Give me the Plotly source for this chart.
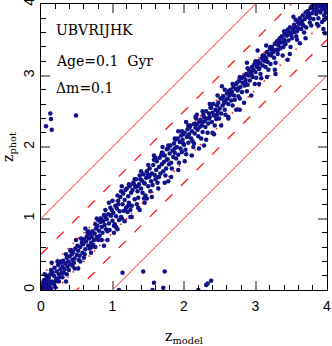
import plotly.graph_objects as go

# band of galaxies around z_phot = z_model
z_model = [
    0.01, 0.02, 0.03, 0.04, 0.05, 0.06, 0.07, 0.08, 0.09, 0.10,
    0.02, 0.04, 0.05, 0.07, 0.08, 0.11, 0.12, 0.13, 0.15, 0.16,
    0.18, 0.19, 0.21, 0.22, 0.24, 0.25, 0.27, 0.28, 0.29, 0.30,
    0.31, 0.33, 0.34, 0.36, 0.37, 0.38, 0.40, 0.41, 0.43, 0.44,
    0.45, 0.47, 0.48, 0.50, 0.51, 0.52, 0.54, 0.55, 0.57, 0.58,
    0.59, 0.60, 0.62, 0.63, 0.64, 0.66, 0.67, 0.69, 0.70, 0.71,
    0.72, 0.74, 0.75, 0.77, 0.78, 0.79, 0.81, 0.82, 0.83, 0.85,
    0.86, 0.87, 0.89, 0.90, 0.91, 0.92, 0.94, 0.95, 0.96, 0.98,
    0.99, 1.00, 1.01, 1.03, 1.04, 1.05, 1.06, 1.08, 1.09, 1.10,
    1.11, 1.12, 1.14, 1.15, 1.16, 1.17, 1.19, 1.20, 1.21, 1.22,
    1.23, 1.24, 1.26, 1.27, 1.28, 1.29, 1.31, 1.32, 1.33, 1.35,
    1.36, 1.37, 1.38, 1.40, 1.41, 1.42, 1.43, 1.45, 1.46, 1.47,
    1.48, 1.50, 1.51, 1.52, 1.54, 1.55, 1.56, 1.57, 1.59, 1.60,
    1.61, 1.62, 1.64, 1.65, 1.66, 1.67, 1.69, 1.70, 1.71, 1.72,
    1.73, 1.75, 1.76, 1.77, 1.79, 1.80, 1.81, 1.82, 1.84, 1.85,
    1.86, 1.87, 1.89, 1.90, 1.91, 1.92, 1.94, 1.95, 1.96, 1.97,
    1.98, 2.00, 2.01, 2.02, 2.04, 2.05, 2.06, 2.07, 2.09, 2.10,
    2.11, 2.12, 2.14, 2.15, 2.16, 2.17, 2.19, 2.20, 2.21, 2.22,
    2.23, 2.25, 2.26, 2.27, 2.29, 2.30, 2.31, 2.32, 2.34, 2.35,
    2.36, 2.37, 2.39, 2.40, 2.41, 2.42, 2.44, 2.45, 2.46, 2.47,
    2.48, 2.50, 2.51, 2.52, 2.54, 2.55, 2.56, 2.57, 2.59, 2.60,
    2.61, 2.62, 2.64, 2.65, 2.66, 2.67, 2.69, 2.70, 2.71, 2.72,
    2.73, 2.75, 2.76, 2.77, 2.79, 2.80, 2.81, 2.82, 2.84, 2.85,
    2.86, 2.87, 2.89, 2.90, 2.91, 2.92, 2.94, 2.95, 2.96, 2.97,
    2.98, 3.00, 3.01, 3.02, 3.04, 3.05, 3.06, 3.07, 3.09, 3.10,
    3.11, 3.12, 3.14, 3.15, 3.16, 3.17, 3.19, 3.20, 3.21, 3.22,
    3.23, 3.25, 3.26, 3.27, 3.29, 3.30, 3.31, 3.32, 3.34, 3.35,
    3.36, 3.37, 3.39, 3.40, 3.41, 3.42, 3.44, 3.45, 3.46, 3.47,
    3.48, 3.50, 3.51, 3.52, 3.54, 3.55, 3.56, 3.57, 3.59, 3.60,
    3.61, 3.62, 3.64, 3.65, 3.66, 3.67, 3.69, 3.70, 3.71, 3.72,
    3.73, 3.75, 3.76, 3.77, 3.79, 3.80, 3.81, 3.82, 3.84, 3.85,
    3.86, 3.87, 3.89, 3.90, 3.91, 3.92, 3.94, 3.95, 3.96, 3.97,
    3.98, 3.99, 3.93, 3.97, 3.88, 3.95, 3.91, 3.99, 3.78, 3.83,
    0.15, 0.35, 0.62, 0.88, 1.13, 1.38, 1.58, 1.78, 2.03, 2.28,
    2.53, 2.78, 3.03, 3.28, 3.53, 0.52, 0.95, 1.25, 1.70, 2.18,
    2.62, 3.15, 3.45, 1.05, 1.48, 0.78, 2.40, 2.88, 3.62, 1.92,
    0.03, 0.06, 0.09, 0.12, 0.14, 0.17, 0.20, 0.23, 0.26, 0.32,
    0.35, 0.39, 0.42, 0.46, 0.49, 0.53, 0.56, 0.61, 0.65, 0.68,
    0.73, 0.76, 0.80, 0.84, 0.88, 0.93, 0.97, 1.02, 1.07, 1.13,
    1.18, 1.25, 1.30, 1.34, 1.39, 1.44, 1.49, 1.53, 1.58, 1.63,
    1.68, 1.74, 1.78, 1.83, 1.88, 1.93, 1.99, 2.03, 2.08, 2.13,
    2.18, 2.24, 2.28, 2.33, 2.38, 2.43, 2.49, 2.53, 2.58, 2.63,
    2.68, 2.74, 2.78, 2.83, 2.88, 2.93, 2.99, 3.03, 3.08, 3.13,
    3.18, 3.24, 3.28, 3.33, 3.38, 3.43, 3.49, 3.53, 3.58, 3.63,
    3.68, 3.74, 3.78, 3.83, 3.88, 3.93, 3.96, 3.98, 3.90, 3.86,
    0.08, 0.11, 0.04, 0.18, 0.22, 0.27, 0.44, 0.58, 0.71, 0.84,
    0.97, 1.08, 1.22, 1.35, 1.44, 1.52, 1.65, 1.76, 1.87, 1.99,
    2.06, 2.14, 2.26, 2.35, 2.46, 2.57, 2.64, 2.76, 2.86, 2.95,
    3.05, 3.14, 3.22, 3.31, 3.41, 3.50, 3.58, 3.66, 3.76, 3.84,
    0.90, 0.93, 1.00, 1.02, 1.07, 1.12, 1.17, 1.23, 1.27, 1.31,
    1.36, 1.40, 1.45, 1.50, 1.55, 1.60, 1.64, 1.69, 1.73, 1.78,
    1.82, 1.87, 1.92, 1.97, 2.01, 2.06, 2.11, 2.16, 2.21, 2.26,
    2.31, 2.36, 2.42, 2.47, 2.52, 2.57, 2.62, 2.68, 2.73, 2.78,
    2.84, 2.89, 2.94, 3.00, 3.05, 3.10, 3.16, 3.21, 3.27, 3.33,
    0.05, 0.10, 0.14, 0.20, 0.25, 0.30, 0.36, 0.41, 0.47, 0.55,
    0.60, 0.66, 0.70, 0.76, 0.80, 0.85, 3.40, 3.48, 3.56, 3.70,
]
z_phot = [
    0.02, 0.06, 0.00, 0.09, 0.03, 0.11, 0.04, 0.13, 0.07, 0.05,
    0.00, 0.02, 0.14, 0.01, 0.17, 0.18, 0.09, 0.22, 0.12, 0.25,
    0.20, 0.31, 0.16, 0.26, 0.35, 0.22, 0.29, 0.38, 0.24, 0.33,
    0.41, 0.29, 0.37, 0.45, 0.33, 0.40, 0.47, 0.36, 0.50, 0.42,
    0.53, 0.44, 0.58, 0.49, 0.62, 0.55, 0.48, 0.60, 0.66, 0.52,
    0.64, 0.71, 0.57, 0.68, 0.75, 0.62, 0.72, 0.78, 0.66, 0.74,
    0.82, 0.70, 0.79, 0.86, 0.74, 0.90, 0.83, 0.76, 0.95, 0.88,
    0.80, 0.96, 0.91, 1.02, 0.85, 0.99, 1.06, 0.93, 0.84, 1.04,
    1.12, 0.97, 1.08, 0.92, 1.18, 1.03, 1.14, 1.25, 0.98, 1.10,
    1.30, 1.02, 1.20, 1.35, 1.11, 1.26, 1.15, 1.42, 1.09, 1.31,
    1.22, 1.45, 1.36, 1.18, 1.40, 1.50, 1.27, 1.44, 1.55, 1.38,
    1.29, 1.48, 1.60, 1.42, 1.53, 1.36, 1.62, 1.49, 1.32, 1.57,
    1.66, 1.45, 1.58, 1.70, 1.52, 1.63, 1.47, 1.75, 1.61, 1.55,
    1.68, 1.80, 1.58, 1.72, 1.85, 1.63, 1.76, 1.92, 1.66, 1.79,
    1.88, 1.70, 1.97, 1.83, 1.76, 1.91, 2.02, 1.78, 1.95, 1.86,
    2.05, 1.92, 1.84, 2.00, 2.12, 1.89, 2.07, 1.98, 2.16, 1.93,
    2.10, 2.03, 2.20, 1.96, 2.14, 2.25, 2.06, 2.18, 2.30, 2.12,
    2.22, 2.08, 2.32, 2.19, 2.27, 2.40, 2.24, 2.15, 2.35, 2.28,
    2.38, 2.30, 2.21, 2.45, 2.36, 2.28, 2.50, 2.40, 2.33, 2.47,
    2.42, 2.55, 2.35, 2.48, 2.60, 2.44, 2.52, 2.39, 2.58, 2.50,
    2.62, 2.54, 2.68, 2.47, 2.58, 2.71, 2.63, 2.52, 2.66, 2.75,
    2.68, 2.60, 2.74, 2.80, 2.65, 2.77, 2.84, 2.72, 2.66, 2.81,
    2.88, 2.79, 2.71, 2.92, 2.84, 2.96, 2.77, 2.90, 2.99, 2.86,
    2.94, 3.02, 2.87, 3.00, 3.07, 2.93, 3.04, 3.12, 2.98, 3.08,
    3.15, 3.05, 2.97, 3.12, 3.20, 3.09, 3.17, 3.02, 3.24, 3.14,
    3.21, 3.28, 3.12, 3.24, 3.33, 3.19, 3.29, 3.37, 3.16, 3.31,
    3.40, 3.33, 3.25, 3.44, 3.36, 3.48, 3.30, 3.42, 3.52, 3.38,
    3.46, 3.55, 3.40, 3.50, 3.59, 3.44, 3.56, 3.64, 3.49, 3.60,
    3.67, 3.58, 3.52, 3.63, 3.71, 3.61, 3.68, 3.55, 3.75, 3.66,
    3.72, 3.80, 3.65, 3.76, 3.84, 3.70, 3.79, 3.88, 3.67, 3.82,
    3.90, 3.83, 3.74, 3.94, 3.87, 3.97, 3.79, 3.91, 3.99, 3.86,
    3.95, 3.98, 3.90, 3.97, 3.88, 3.99, 3.93, 3.96, 3.84, 3.99,
    3.92, 3.97, 3.75, 3.59, 3.70, 3.65, 3.98, 3.80, 3.96, 3.99,
    0.38, 0.12, 0.86, 0.62, 1.45, 1.12, 1.88, 1.52, 2.35, 2.02,
    2.85, 2.52, 3.35, 3.02, 3.82, 0.30, 1.22, 1.02, 2.00, 2.45,
    2.40, 3.42, 3.22, 0.88, 1.28, 1.00, 2.20, 3.18, 3.45, 2.22,
    0.10, 0.00, 0.16, 0.05, 0.28, 0.10, 0.12, 0.40, 0.18, 0.24,
    0.50, 0.28, 0.56, 0.38, 0.70, 0.42, 0.72, 0.50, 0.80, 0.58,
    0.63, 0.92, 0.70, 1.00, 1.05, 0.82, 1.15, 0.90, 1.32, 1.00,
    1.40, 1.12, 1.48, 1.20, 1.55, 1.28, 1.62, 1.38, 1.82, 1.50,
    1.88, 1.60, 1.98, 1.70, 2.10, 1.78, 2.18, 1.90, 2.28, 2.00,
    2.32, 2.12, 2.42, 2.20, 2.55, 2.30, 2.40, 2.68, 2.45, 2.78,
    2.58, 2.90, 2.68, 2.98, 2.78, 3.05, 2.88, 3.16, 2.96, 3.26,
    3.08, 3.36, 3.18, 3.46, 3.28, 3.56, 3.40, 3.66, 3.50, 3.74,
    3.60, 3.86, 3.70, 3.92, 3.80, 3.94, 3.78, 3.88, 3.99, 3.72,
    0.20, 0.01, 0.13, 0.08, 0.14, 0.40, 0.34, 0.70, 0.60, 0.98,
    1.05, 1.20, 1.18, 1.45, 1.50, 1.60, 1.58, 1.82, 1.98, 2.05,
    2.15, 2.05, 2.35, 2.40, 2.45, 2.62, 2.72, 2.82, 2.90, 3.00,
    3.10, 3.20, 3.28, 3.35, 3.46, 3.56, 3.62, 3.71, 3.80, 3.92,
    1.12, 0.70, 1.25, 0.80, 0.85, 1.38, 0.96, 1.48, 1.02, 1.55,
    1.15, 1.66, 1.22, 1.75, 1.30, 1.85, 1.42, 1.92, 1.50, 2.02,
    1.58, 2.12, 1.68, 2.22, 1.80, 2.30, 1.88, 2.42, 1.98, 2.50,
    2.10, 2.60, 2.18, 2.72, 2.30, 2.80, 2.42, 2.88, 2.52, 2.98,
    2.62, 3.10, 2.72, 3.20, 2.88, 3.28, 2.98, 3.40, 3.08, 3.50,
    0.22, 0.15, 0.02, 0.04, 0.12, 0.18, 0.22, 0.55, 0.30, 0.40,
    0.45, 0.82, 0.52, 0.60, 0.98, 0.70, 3.62, 3.30, 3.78, 3.52,
]

# catastrophic outliers
out_model = [0.13, 0.14, 0.07, 0.15, 0.49, 1.14, 1.43, 1.58, 1.73, 1.71, 1.09, 1.56, 2.20, 2.31, 2.38, 2.33]
out_phot = [2.47, 2.39, 2.29, 2.24, 2.44, 0.24, 0.26, 0.10, 0.26, 0.03, 0.00, 0.00, 0.00, 0.07, 0.13, 0.09]

# reference lines z_phot = z_model + offset
offsets = [1.0, 0.5, 0.2, -0.2, -0.5, -1.0]
styles = ["solid", "10px,12px", "1.5px,6px", "1.5px,6px", "10px,12px", "solid"]
widths = [1, 1.3, 1.6, 1.6, 1.3, 1]

tick_vals = [0, 1, 2, 3, 4]

serif = "DejaVu Serif"
sans = "Liberation Sans"

fig = go.Figure()

for off, dash, w in zip(offsets, styles, widths):
    fig.add_trace(go.Scatter(
        x=[0, 4], y=[0 + off, 4 + off], mode="lines",
        line=dict(color="#ff1a1a", width=w, dash=dash),
        hoverinfo="skip", showlegend=False,
    ))

fig.add_trace(go.Scatter(
    x=z_model + out_model, y=z_phot + out_phot, mode="markers",
    marker=dict(color="#10108a", size=4.5, line=dict(width=0)),
    showlegend=False,
))

labels = ["UBVRIJHK", "Age=0.1  Gyr", "\u0394m=0.1"]
label_y = [3.63, 3.2, 2.82]
for txt, yy in zip(labels, label_y):
    fig.add_annotation(x=0.18, y=yy, text=txt, showarrow=False, xanchor="left",
                       yanchor="middle", font=dict(family=serif, size=14, color="black"))

axis_common = dict(
    range=[0, 4], showgrid=False, zeroline=False, automargin=False,
    showline=True, linecolor="black", linewidth=1.2, mirror="ticks",
    ticks="inside", tickvals=tick_vals, ticktext=[str(v) for v in tick_vals],
    ticklen=9, tickwidth=1.5, tickcolor="#888888",
    minor=dict(ticks="inside", dtick=0.2, ticklen=5, tickcolor="black", tickwidth=1),
    tickfont=dict(family=sans, size=14, color="black"),
    ticklabeloverflow="allow",
)

fig.update_xaxes(**axis_common, ticklabelstandoff=3,
                 title=dict(text="z<sub>model</sub>", font=dict(family=serif, size=14, color="black"),
                            standoff=22))
fig.update_yaxes(**axis_common, tickangle=-90,
                 title=dict(text="z<sub>phot</sub>", font=dict(family=serif, size=14, color="black"),
                            standoff=14))

fig.update_layout(
    width=332, height=346,
    margin=dict(l=41, r=5, t=4, b=56),
    plot_bgcolor="white", paper_bgcolor="white",
)

# drop the default page margin so the figure sits flush in the window
fig.write_html("out.html", config={"displayModeBar": False},
               post_script="document.body.style.margin='0';")
